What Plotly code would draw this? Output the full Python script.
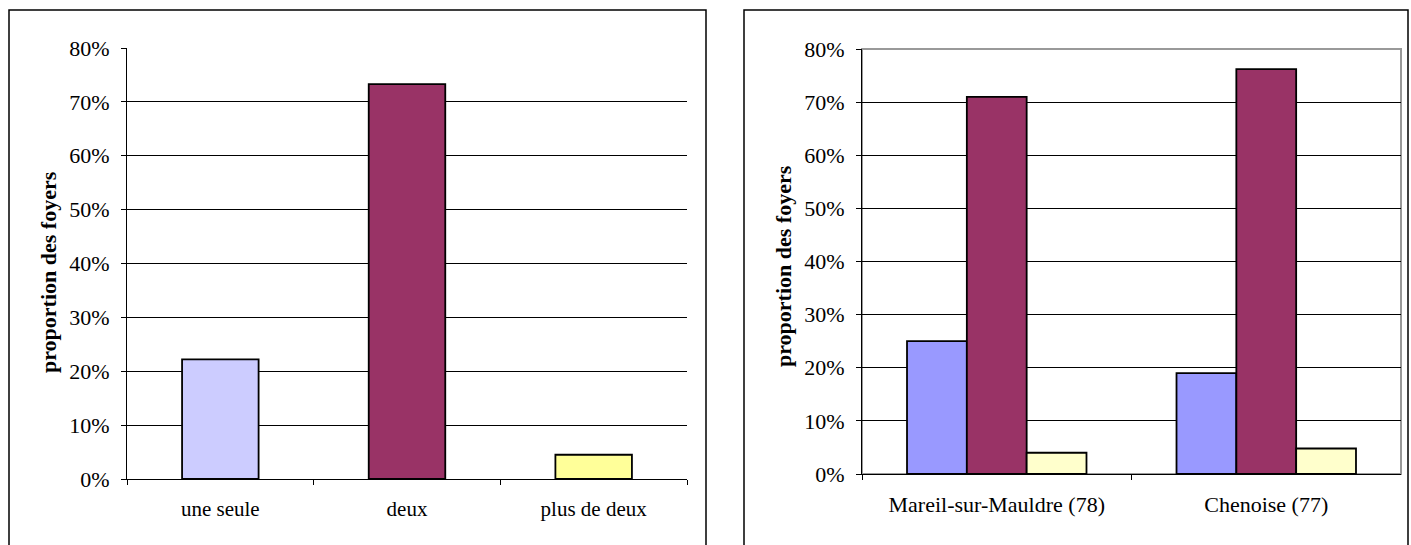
import plotly.graph_objects as go

# Left chart data
left_categories = ["une seule", "deux", "plus de deux"]
left_values = [0.222, 0.733, 0.045]
left_colors = ["#CCCCFF", "#993366", "#FFFF99"]

# Right chart data
right_categories = ["Mareil-sur-Mauldre (78)", "Chenoise (77)"]
series_names = ["une seule", "deux", "plus de deux"]
series_une_seule = [0.25, 0.19]
series_deux = [0.71, 0.762]
series_plus = [0.04, 0.048]
right_colors = ["#9999FF", "#993366", "#FFFFCC"]

y_title = "proportion des foyers"
y_ticks = [0, 0.1, 0.2, 0.3, 0.4, 0.5, 0.6, 0.7, 0.8]

W, H = 1411, 545
FONT = "Liberation Serif, Times New Roman, serif"


def px_x(v):
    return v / W


def px_y(v):
    return (H - v) / H


fig = go.Figure()

fig.add_trace(go.Bar(
    x=left_categories, y=left_values, width=0.41,
    marker=dict(color=left_colors, line=dict(color="black", width=1.8)),
    xaxis="x", yaxis="y", showlegend=False,
))

right_values = [series_une_seule, series_deux, series_plus]
offsets = [-0.333, -0.111, 0.111]
for name, vals, col, off in zip(series_names, right_values, right_colors, offsets):
    fig.add_trace(go.Bar(
        x=right_categories, y=vals, name=name, width=0.222, offset=off,
        marker=dict(color=col, line=dict(color="black", width=1.8)),
        xaxis="x2", yaxis="y2", showlegend=False,
    ))


def xaxis_style(size):
    return dict(
        type="category", tickson="boundaries", ticks="outside", ticklen=5,
        tickcolor="black", showline=True, linecolor="black", linewidth=1,
        showgrid=False, tickfont=dict(family=FONT, size=size, color="black"),
        fixedrange=True, automargin=False, ticklabelstandoff=11,
    )


yaxis_common = dict(
    range=[0, 0.8], tickvals=y_ticks, tickformat=".0%", ticks="outside",
    ticklen=5, tickcolor="black", showline=True, linecolor="black",
    linewidth=1, showgrid=True, gridcolor="black", gridwidth=1,
    zeroline=False, tickfont=dict(family=FONT, size=22, color="black"),
    fixedrange=True, automargin=False, ticklabelstandoff=7,
)

fig.update_layout(
    template="none",
    width=W, height=H, autosize=False,
    margin=dict(l=0, r=0, t=0, b=0, pad=0),
    paper_bgcolor="white", plot_bgcolor="white",
    barmode="overlay",
    xaxis=dict(domain=[px_x(127), px_x(687)], anchor="y", **xaxis_style(21)),
    yaxis=dict(domain=[px_y(479), px_y(48)], anchor="x", **yaxis_common),
    xaxis2=dict(domain=[px_x(862), px_x(1401)], anchor="y2", **xaxis_style(22)),
    yaxis2=dict(domain=[px_y(474), px_y(49)], anchor="x2", **yaxis_common),
    showlegend=False,
)

shapes = [
    dict(type="rect", xref="paper", yref="paper",
         x0=px_x(9), x1=px_x(706), y0=-0.05, y1=px_y(10),
         line=dict(color="black", width=1.5), layer="below"),
    dict(type="rect", xref="paper", yref="paper",
         x0=px_x(744), x1=px_x(1408), y0=-0.05, y1=px_y(10),
         line=dict(color="black", width=1.5), layer="below"),
    dict(type="rect", xref="x2 domain", yref="y2 domain",
         x0=0, x1=1, y0=0, y1=1,
         line=dict(color="#999999", width=2), layer="below"),
]
fig.update_layout(shapes=shapes)

annotations = [
    dict(text="<b>" + y_title + "</b>", xref="paper", yref="paper",
         x=px_x(48), y=px_y(272), textangle=-90, showarrow=False,
         font=dict(family=FONT, size=22, color="black"),
         xanchor="center", yanchor="middle"),
    dict(text="<b>" + y_title + "</b>", xref="paper", yref="paper",
         x=px_x(783), y=px_y(266), textangle=-90, showarrow=False,
         font=dict(family=FONT, size=22, color="black"),
         xanchor="center", yanchor="middle"),
]
fig.update_layout(annotations=annotations)

post = (
    "document.body.style.margin='0';"
    "document.body.style.overflow='hidden';"
    "var d=document.getElementById('{plot_id}');"
    "d.style.position='absolute';d.style.top='0px';d.style.left='0px';"
)
fig.write_html("out.html", post_script=post, config={"displayModeBar": False})
